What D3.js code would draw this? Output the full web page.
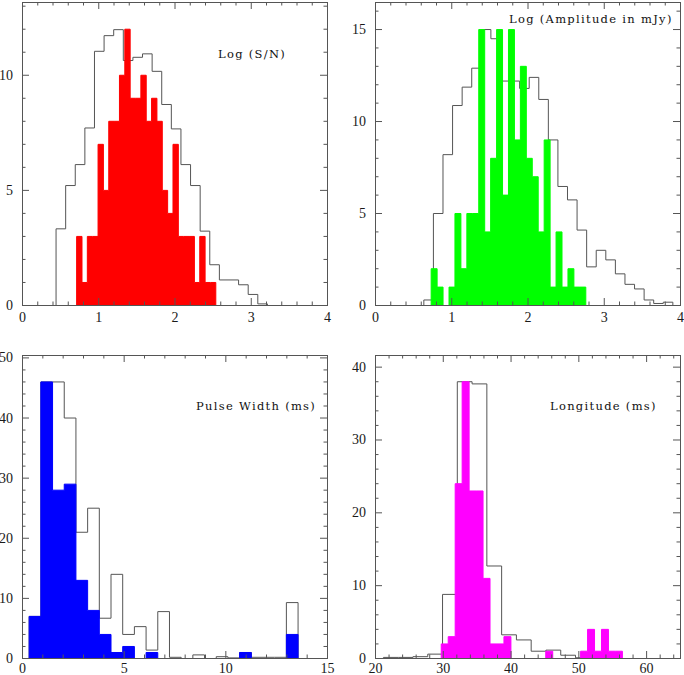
<!DOCTYPE html>
<html>
    <head>
        <script src="https://d3js.org/d3.v7.min.js"></script>
        <style>
            body { margin: 0; background: #fff; }
            .tick text { font-family: "Liberation Serif", serif; font-size: 14px; fill: #1a1a1a; }
            .tick line { stroke: #555; }
            .title { font-family: "DejaVu Serif", serif; font-size: 11.5px; letter-spacing: 1.3px; fill: #111; }
        </style>
    </head>
    <body>
        <div id="vizBody"></div>
    </body>
    <script>
        //---- values ----
        //each histogram = first bin edge, bin width, counts

        //Log (S/N)
        let snFillBins = [0.6398, 0.0702]
        let snFill = [0, 3, 1, 3, 3, 7, 5, 8, 8, 10, 12, 9, 9, 10, 8, 9, 8, 5, 4, 7, 3, 3, 3, 1, 3, 1, 1, 0]
        let snAllBins = [0.44, 0.126]
        let snAll = [3.33, 5.21, 6.12, 7.71, 11.04, 11.72, 11.98, 10.64, 10.78, 10.93, 10.17, 8.73, 7.67, 6.12, 5.21, 3.23, 1.77, 1.11, 1.11, 0.9, 0.48, 0.07]
        let snXTicks = [0, 1, 2, 3, 4]
        let snYTicks = [0, 5, 10]

        //Log (Amplitude in mJy)
        let ampFillBins = [0.652, 0.078]
        let ampFill = [0, 2, 1, 0, 1, 5, 2, 5, 5, 15, 4, 8, 15, 6, 15, 9, 13, 8, 7, 4, 9, 1, 4, 1, 2, 1, 1, 0]
        let ampAllBins = [0.634, 0.1256]
        let ampAll = [0.3, 5.0, 8.2, 10.87, 11.87, 12.9, 15.0, 14.5, 12.2, 12.2, 11.8, 12.4, 11.2, 9.0, 6.47, 5.74, 4.1, 2.1, 3.0, 2.48, 1.72, 1.15, 0.9, 0.3, 0.11, 0.18]
        let ampXTicks = [0, 1, 2, 3, 4]
        let ampYTicks = [0, 5, 10, 15]

        //Pulse Width (ms)
        let pwFillBins = [-0.247, 0.575]
        let pwFill = [0, 7, 46, 28, 29, 13, 8, 4, 1, 2, 0, 1, 0, 0, 0, 0, 0, 0, 0, 1, 0, 0, 0, 4, 0, 0, 0]
        let pwAllBins = [0.328, 0.575]
        let pwAll = [7, 46, 46, 40, 21, 25, 6.7, 14, 4, 5.3, 1.4, 7.8, 0.2, 0, 0.6, 0, 0.3, 0.1, 1, 0.2, 0.2, 0.2, 9.3]
        let pwXTicks = [0, 5, 10, 15]
        let pwYTicks = [0, 10, 20, 30, 40, 50]

        //Longitude (ms)
        let lonFillBins = [28.672, 1.028]
        let lonFill = [0, 2, 3, 24, 38, 23, 23, 11, 2, 2, 3, 0, 0, 0, 0, 0, 1, 0, 0, 0, 0, 1, 4, 1, 4, 1, 1, 0]
        let lonAllBins = [21.17, 2.18]
        let lonAll = [0.15, 0.15, 0.25, 0.6, 8.8, 38.0, 37.7, 12.7, 3.25, 2.55, 1.0, 1.15, 0.45, 0.1, 0.05, 0.05]
        let lonXTicks = [20, 30, 40, 50, 60]
        let lonYTicks = [0, 10, 20, 30, 40]

        //---- panel layout ----
        let panelW = 305, panelH = 303

        let panels = [
            {left: 22, top: 2, xDomain: [0, 4], yMax: 13.16, xMinor: 0.2, yMinor: 1, pad: 7,
             fill: snFill, fillBins: snFillBins, all: snAll, allBins: snAllBins, color: "#ff0000",
             xTicks: snXTicks, yTicks: snYTicks, title: "Log (S/N)", tx: 196, ty: 56},
            {left: 375, top: 2, xDomain: [0, 4], yMax: 16.47, xMinor: 0.2, yMinor: 1, pad: 7,
             fill: ampFill, fillBins: ampFillBins, all: ampAll, allBins: ampAllBins, color: "#00ff00",
             xTicks: ampXTicks, yTicks: ampYTicks, title: "Log (Amplitude in mJy)", tx: 134, ty: 21},
            {left: 22, top: 355, xDomain: [0, 15], yMax: 50.4, xMinor: 1, yMinor: 2, pad: 5,
             fill: pwFill, fillBins: pwFillBins, all: pwAll, allBins: pwAllBins, color: "#0000ff",
             xTicks: pwXTicks, yTicks: pwYTicks, title: "Pulse Width (ms)", tx: 174, ty: 55},
            {left: 375, top: 355, xDomain: [20, 65], yMax: 41.6, xMinor: 2, yMinor: 2, pad: 5,
             fill: lonFill, fillBins: lonFillBins, all: lonAll, allBins: lonAllBins, color: "#ff00ff",
             xTicks: lonXTicks, yTicks: lonYTicks, title: "Longitude (ms)", tx: 175, ty: 55}
        ]

        let svg = d3.select("#vizBody")
                    .append("svg")
                        .attr("width", 684)
                        .attr("height", 675)

        //turns (edge, width, counts) into step points
        function stepPoints(bins, counts) {
            let pts = counts.map((c, i) => ({x: bins[0] + i * bins[1], v: c}))
            pts.push({x: bins[0] + counts.length * bins[1], v: counts[counts.length - 1]})
            return pts
        }

        panels.forEach((p, k) => {
            let g = svg.append("g")
                       .attr("transform", "translate(" + p.left + "," + p.top + ")")

            let xScale = d3.scaleLinear().domain(p.xDomain).range([0, panelW])
            let yScale = d3.scaleLinear().domain([0, p.yMax]).range([panelH, 0])

            g.append("clipPath").attr("id", "clip" + k)
             .append("rect").attr("width", panelW + 1).attr("height", panelH + 1)

            let plot = g.append("g").attr("clip-path", "url(#clip" + k + ")")

            //open histogram (whole sample)
            let allPts = stepPoints(p.allBins, p.all)
            allPts.unshift({x: p.allBins[0], v: 0})
            allPts.push({x: allPts[allPts.length - 1].x, v: 0})
            plot.append("path")
                .datum(allPts)
                .attr("fill", "none")
                .attr("stroke", "#555")
                .attr("stroke-width", 1)
                .attr("d", d3.line().curve(d3.curveStepAfter)
                             .x(d => xScale(d.x) + 0.5)
                             .y(d => yScale(d.v) + 0.5))

            //filled histogram (selected pulses) on top
            plot.append("path")
                .datum(stepPoints(p.fillBins, p.fill))
                .attr("fill", p.color)
                .attr("stroke", p.color)
                .attr("stroke-width", 1)
                .attr("d", d3.area().curve(d3.curveStepAfter)
                             .x(d => xScale(d.x) + 0.5)
                             .y0(yScale(0) + 0.5)
                             .y1(d => yScale(d.v) + 0.5))

            //ticks: major + minor on all four sides, pointing in
            let xMinorVals = d3.range(p.xDomain[0], p.xDomain[1] + 1e-9, p.xMinor).filter(v => !p.xTicks.some(t => Math.abs(t - v) < 1e-6))
            let yMinorVals = d3.range(0, p.yMax, p.yMinor).filter(v => !p.yTicks.some(t => Math.abs(t - v) < 1e-6))
            let xMajorAll = d3.range(p.xDomain[0], p.xDomain[1] + 1e-9, p.xTicks[1] - p.xTicks[0])

            let noDomain = s => s.select(".domain").remove()

            g.append("g").attr("transform", "translate(0," + panelH + ")")
             .call(d3.axisBottom(xScale).tickValues(xMajorAll).tickSize(-7).tickPadding(p.pad)
                     .tickFormat(d => p.xTicks.includes(d) ? d3.format("d")(d) : ""))
             .call(noDomain)
            g.append("g").attr("transform", "translate(0," + panelH + ")")
             .call(d3.axisBottom(xScale).tickValues(xMinorVals).tickSize(-3.5).tickFormat(""))
             .call(noDomain)
            g.append("g")
             .call(d3.axisTop(xScale).tickValues(xMajorAll).tickSize(-7).tickFormat(""))
             .call(noDomain)
            g.append("g")
             .call(d3.axisTop(xScale).tickValues(xMinorVals).tickSize(-3.5).tickFormat(""))
             .call(noDomain)

            g.append("g")
             .call(d3.axisLeft(yScale).tickValues(p.yTicks).tickSize(-7).tickPadding(9).tickFormat(d3.format("d")))
             .call(noDomain)
            g.append("g")
             .call(d3.axisLeft(yScale).tickValues(yMinorVals).tickSize(-3.5).tickFormat(""))
             .call(noDomain)
            g.append("g").attr("transform", "translate(" + panelW + ",0)")
             .call(d3.axisRight(yScale).tickValues(p.yTicks).tickSize(-7).tickFormat(""))
             .call(noDomain)
            g.append("g").attr("transform", "translate(" + panelW + ",0)")
             .call(d3.axisRight(yScale).tickValues(yMinorVals).tickSize(-3.5).tickFormat(""))
             .call(noDomain)

            //frame
            g.append("rect")
             .attr("x", 0.5).attr("y", 0.5)
             .attr("width", panelW).attr("height", panelH)
             .attr("fill", "none")
             .attr("stroke", "#555")

            //panel label
            g.append("text")
             .attr("class", "title")
             .attr("x", p.tx).attr("y", p.ty)
             .text(p.title)
        })
    </script>
</html>
